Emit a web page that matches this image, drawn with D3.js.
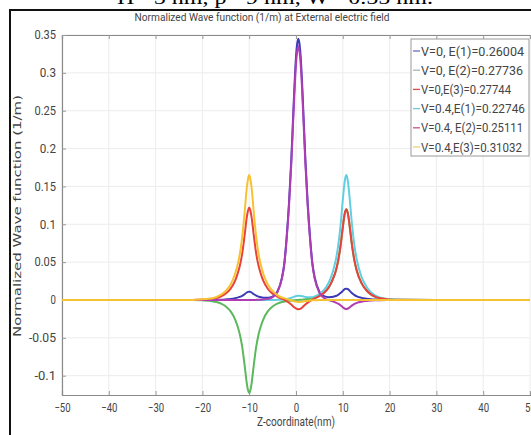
<!DOCTYPE html>
<html><head><meta charset="utf-8">
<script src="https://cdn.jsdelivr.net/npm/d3@7"></script>
<style>body{margin:0;background:#fff;} svg{display:block;}</style>
</head><body>
<script>
// z coordinate (nm), grouped in tens
const zCoord = [
  -50,-30,-22,-20,-18,-17,-16,-15,-14,-13,
  -12.5,-12,-11.5,-11,-10.5,-10.25,-10,-9.75,-9.5,-9,
  -8.5,-8,-7.5,-7,-6,-5,-4,-3,-2.5,-2,
  -1.5,-1,-0.5,-0.25,0,0.25,0.5,0.75,1,1.25,
  1.5,2,2.5,3,3.5,4,5,6,7,7.5,
  8,8.5,9,9.5,10,10.25,10.5,10.75,11,11.25,
  11.5,12,12.5,13,14,15,16,17,18,20,
  22,30,50];
const v0E1 = [
  0,0,0,0,0.0001,0.0002,0.0004,0.0008,0.0013,0.0023,
  0.0031,0.0041,0.0055,0.0076,0.0099,0.0107,0.011,0.0107,0.0099,0.0076,
  0.0057,0.0044,0.0035,0.003,0.0029,0.0046,0.0108,0.0295,0.0485,0.0829,
  0.1277,0.1863,0.2588,0.2933,0.321,0.3382,0.3451,0.3382,0.321,0.2934,
  0.2589,0.1864,0.1279,0.083,0.0486,0.0297,0.0111,0.005,0.0037,0.0038,
  0.0044,0.0052,0.0068,0.0091,0.012,0.0135,0.0146,0.015,0.0146,0.0135,
  0.012,0.0089,0.0065,0.0048,0.0028,0.0017,0.0009,0.0005,0.0003,0.0001,
  0,0,0];
const v0E2 = [
  0,0,-0.0001,-0.0005,-0.0015,-0.0027,-0.0049,-0.0086,-0.0148,-0.0258,
  -0.0344,-0.0455,-0.0615,-0.0849,-0.1107,-0.1193,-0.123,-0.1193,-0.1107,-0.0849,
  -0.0615,-0.0455,-0.0344,-0.0258,-0.0148,-0.0086,-0.0049,-0.0027,-0.0021,-0.0015,
  -0.001,-0.0008,-0.0004,-0.0004,-0.0001,0,0.0001,0.0002,0.0003,0.0004,
  0.0005,0.0009,0.0013,0.0017,0.0023,0.0031,0.0056,0.0096,0.0168,0.0222,
  0.0294,0.0384,0.0516,0.0708,0.096,0.108,0.1164,0.12,0.1164,0.108,
  0.096,0.0708,0.0516,0.0384,0.0222,0.0132,0.0074,0.0042,0.0023,0.0007,
  0.0002,0,0];
const v0E3 = [
  0,0,0,0.0005,0.0015,0.0027,0.0049,0.0085,0.0146,0.0256,
  0.0342,0.0451,0.061,0.0842,0.1098,0.1183,0.122,0.1183,0.1098,0.0842,
  0.061,0.0451,0.0342,0.0256,0.0145,0.0084,0.0045,0.0016,0.0003,-0.0016,
  -0.0036,-0.006,-0.009,-0.0103,-0.0112,-0.0119,-0.0121,-0.0119,-0.0114,-0.0102,
  -0.0088,-0.0059,-0.0035,-0.0014,0.0005,0.002,0.0052,0.0095,0.0167,0.0222,
  0.0294,0.0384,0.0516,0.0708,0.096,0.108,0.1164,0.12,0.1164,0.108,
  0.096,0.0708,0.0516,0.0384,0.0222,0.0132,0.0074,0.0042,0.0023,0.0007,
  0.0002,0,0];
const v4E1 = [
  0,0,0,0,0,0,0,0,0,0,
  0,0,0,0,0,0,0,0,0,0,
  0,0,0,0,0,0,0.0002,0.0004,0.0007,0.0012,
  0.0021,0.0029,0.0041,0.0046,0.0052,0.0054,0.0057,0.0056,0.0054,0.0051,
  0.0048,0.004,0.0037,0.0035,0.0038,0.0047,0.0079,0.0133,0.0231,0.0305,
  0.0404,0.0528,0.071,0.0974,0.132,0.1485,0.16,0.165,0.16,0.1485,
  0.132,0.0974,0.071,0.0528,0.0305,0.0182,0.0102,0.0058,0.0031,0.001,
  0.0003,0,0];
const v4E2 = [
  0,0,0,0,0,0,0,0,0,0,
  0,0,0,0,0,0,0,0,0,0,
  0.0002,0.0003,0.0004,0.0007,0.0015,0.0037,0.01,0.0285,0.0469,0.0804,
  0.124,0.1809,0.2513,0.2848,0.3116,0.3283,0.335,0.3283,0.3116,0.2848,
  0.2512,0.1808,0.1239,0.0802,0.0467,0.0282,0.0094,0.0027,-0.0002,-0.0012,
  -0.0022,-0.0034,-0.0049,-0.0069,-0.0096,-0.0108,-0.0116,-0.012,-0.0116,-0.0108,
  -0.0096,-0.0071,-0.0052,-0.0038,-0.0022,-0.0013,-0.0007,-0.0004,-0.0002,-0.0001,
  0,0,0];
const v4E3 = [
  0,0,0,0.001,0.002,0.004,0.007,0.012,0.020,0.035,
  0.046,0.061,0.083,0.114,0.149,0.160,0.165,0.160,0.149,0.114,
  0.083,0.061,0.046,0.035,0.020,0.012,0.0065,0.0033,0.0024,0.0013,
  0.0004,-0.0004,-0.0015,-0.0019,-0.0021,-0.0023,-0.0025,-0.0025,-0.0025,-0.0023,
  -0.0021,-0.0014,-0.0011,-0.0007,-0.0004,-0.0003,-0.0001,0,0,0,
  0,0,0,0,0,0,0,0,0,0,
  0,0,0,0,0,0,0,0,0,0,
  0,0,0];

const seriesNames = ["V=0, E(1)=0.26004","V=0, E(2)=0.27736","V=0,E(3)=0.27744","V=0.4,E(1)=0.22746","V=0.4, E(2)=0.25111","V=0.4,E(3)=0.31032"];
const seriesColors = ["#3a3ab8","#5cb85c","#e8423a","#62cfe0","#b03cb4","#f7c232"];
const legendColors = ["#6a6ac8","#a8b8b0","#d84848","#70c8d8","#c85090","#f2d070"];
const legendWidths = [103,102,90,104,102,101];
const drawOrder = [0,1,3,2,4,5];
const xTicks = [-50,-40,-30,-20,-10,0,10,20,30,40,50];
const yTicks = [-0.1,-0.05,0,0.05,0.1,0.15,0.2,0.25,0.3,0.35];
const yTickLabels = ["-0.1","-0.05","0","0.05","0.1","0.15","0.2","0.25","0.3","0.35"];
const titleText = "Normalized Wave function (1/m) at External electric field";
const captionText = "H= 5 nm, p= 9 nm, W= 0.55 nm.";

const allSeries = [v0E1,v0E2,v0E3,v4E1,v4E2,v4E3];

const W = 531, H = 435;
const svg = d3.select("body").append("svg").attr("width",W).attr("height",H);
svg.append("rect").attr("width",W).attr("height",H).attr("fill","#fff");

// caption (cut at top edge, as in the source)
svg.append("text").attr("x",117).attr("y",4).attr("font-family","Liberation Serif, serif")
  .attr("font-size",19).attr("fill","#000").attr("textLength",316).attr("lengthAdjust","spacingAndGlyphs")
  .text(captionText);

// outer frame
svg.append("path").attr("d","M10,440 L10,10 L540,10").attr("fill","none").attr("stroke","#111").attr("stroke-width",2);

const x = d3.scaleLinear().domain([-50,50]).range([62,530]);
const y = d3.scaleLinear().domain([-0.1255,0.35]).range([395,35]);

const tickFont = "Roboto, 'Liberation Sans', sans-serif";

// grid
const grid = svg.append("g");
xTicks.forEach(t=>{
  grid.append("line").attr("x1",x(t)).attr("x2",x(t)).attr("y1",y.range()[1]).attr("y2",y.range()[0])
    .attr("stroke","#ececec").attr("stroke-width",1);
});
yTicks.forEach(t=>{
  grid.append("line").attr("x1",x.range()[0]).attr("x2",x.range()[1]).attr("y1",y(t)).attr("y2",y(t))
    .attr("stroke","#ececec").attr("stroke-width",1);
});

// axes
const xAxis = svg.append("g").attr("transform",`translate(0,${y.range()[0]})`)
  .call(d3.axisBottom(x).tickValues(xTicks).tickSize(-4).tickPadding(8).tickFormat(d3.format("d")));
const xAxisTop = svg.append("g").attr("transform",`translate(0,${y.range()[1]})`)
  .call(d3.axisTop(x).tickValues(xTicks).tickSize(-4).tickFormat(""));
const yAxis = svg.append("g").attr("transform",`translate(${x.range()[0]},0)`)
  .call(d3.axisLeft(y).tickValues(yTicks).tickSize(-4).tickPadding(6).tickFormat((d,i)=>yTickLabels[i]));
[xAxis,xAxisTop,yAxis].forEach(g=>{
  g.select(".domain").attr("stroke","#8a8a8a").attr("stroke-width",1.2);
  g.selectAll(".tick line").attr("stroke","#9a9a9a");
  g.selectAll(".tick text").attr("font-family",tickFont).attr("font-size",12).attr("fill","#444")
    .each(function(){ const t=d3.select(this).text(); if(t) d3.select(this).attr("textLength",t.length*5.4).attr("lengthAdjust","spacingAndGlyphs"); });
});

// lines
const line = d3.line().x((d,i)=>x(zCoord[i])).y(d=>y(d)).curve(d3.curveMonotoneX);
const plot = svg.append("g");
drawOrder.forEach(k=>{
  plot.append("path").datum(allSeries[k]).attr("d",line).attr("fill","none")
    .attr("stroke",seriesColors[k]).attr("stroke-width",2).attr("stroke-linejoin","round");
});

// title
svg.append("text").attr("x",262).attr("y",21).attr("text-anchor","middle")
  .attr("font-family",tickFont).attr("font-size",11.5).attr("fill","#444")
  .attr("textLength",255).attr("lengthAdjust","spacingAndGlyphs").text(titleText);

// y label
svg.append("text").attr("transform","translate(21,216) rotate(-90)").attr("text-anchor","middle")
  .attr("font-family","DejaVu Sans, sans-serif").attr("font-size",11).attr("fill","#444")
  .attr("textLength",242).attr("lengthAdjust","spacingAndGlyphs").text("Normalized Wave function (1/m)");

// x label
svg.append("text").attr("x",296).attr("y",426).attr("text-anchor","middle")
  .attr("font-family",tickFont).attr("font-size",12.5).attr("fill","#444")
  .attr("textLength",78).attr("lengthAdjust","spacingAndGlyphs").text("Z-coordinate(nm)");

// legend
const lg = svg.append("g");
lg.append("rect").attr("x",411).attr("y",39).attr("width",118).attr("height",117)
  .attr("fill","#fff").attr("stroke","#9a9a9a").attr("stroke-width",1);
seriesNames.forEach((n,i)=>{
  const yy = 51 + i*19.2;
  lg.append("line").attr("x1",413).attr("x2",420).attr("y1",yy).attr("y2",yy)
    .attr("stroke",legendColors[i]).attr("stroke-width",1.3);
  lg.append("text").attr("x",421).attr("y",yy+4.5).attr("font-family",tickFont).attr("font-size",12)
    .attr("fill","#444").attr("textLength",legendWidths[i]).attr("lengthAdjust","spacingAndGlyphs").text(n);
});
</script>
</body></html>
